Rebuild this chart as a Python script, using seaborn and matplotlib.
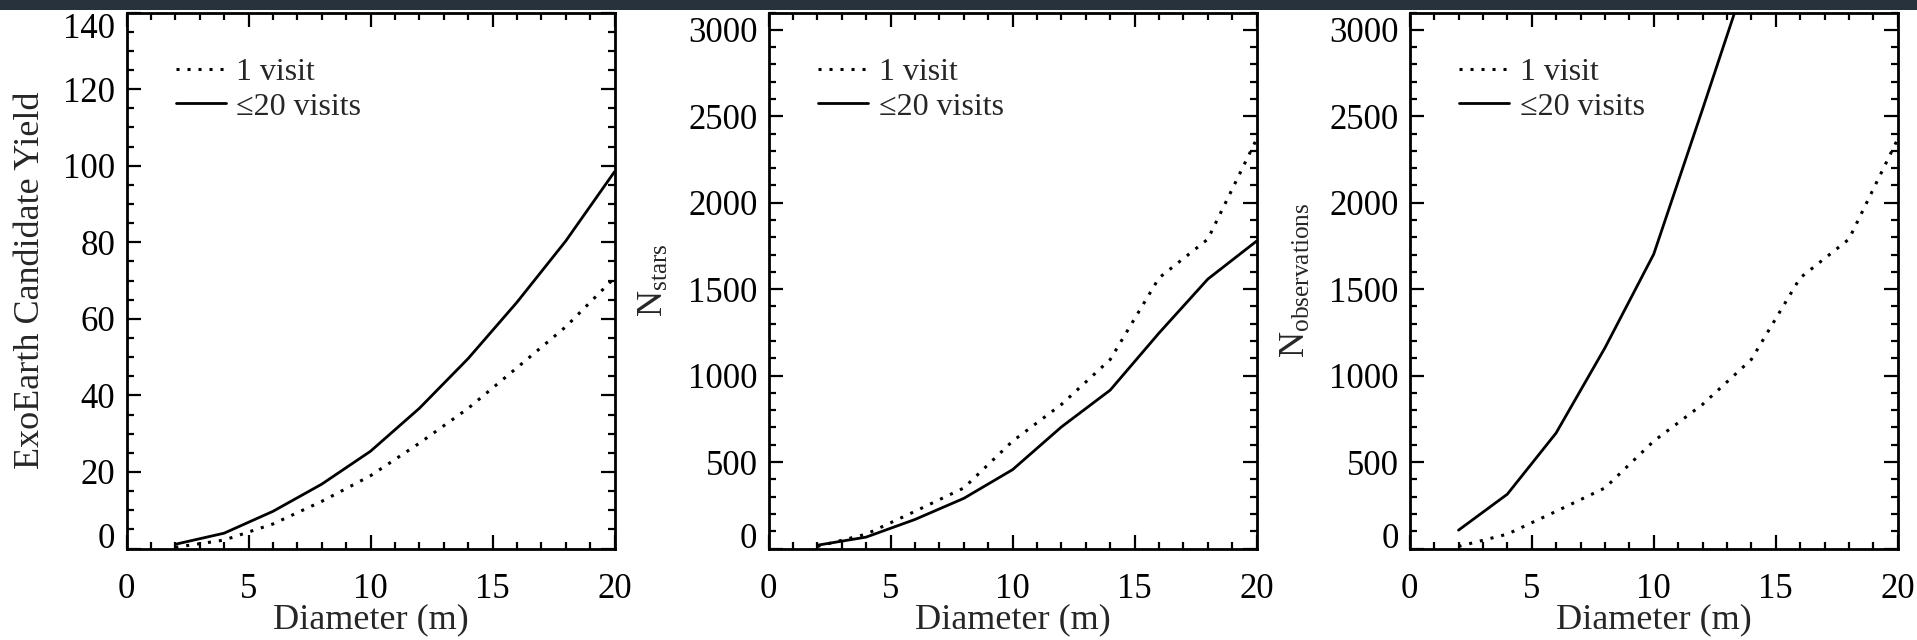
import numpy as np
import pandas as pd
import matplotlib
matplotlib.use("Agg")
import matplotlib.pyplot as plt
from matplotlib.ticker import MultipleLocator
from matplotlib.patches import Rectangle
import seaborn as sns

# ---- data ----
diameter = [2, 4, 6, 8, 10, 12, 14, 16, 18, 20]
yield_1visit = [0.3, 2.2, 6.4, 12.3, 19.0, 27.5, 36.6, 47.2, 57.9, 70.7]
yield_20visits = [1.1, 4.0, 9.7, 16.8, 25.4, 36.6, 49.6, 64.3, 80.3, 98.4]
nstars_1visit = [12, 83, 215, 350, 621, 833, 1093, 1565, 1789, 2368]
nstars_20visits = [19, 66, 168, 290, 456, 703, 916, 1246, 1558, 1778]
nobs_1visit = [12, 83, 215, 350, 621, 833, 1093, 1565, 1789, 2368]
diameter_obs20 = [2, 4, 6, 8, 10, 12, 14]
nobs_20visits = [106, 314, 668, 1160, 1702, 2540, 3390]
series_labels = ["1 visit", "\u226420 visits"]
ylabels = ["ExoEarth Candidate Yield", r"$\mathrm{N_{stars}}$", r"$\mathrm{N_{observations}}$"]
xlabel = "Diameter (m)"

sns.set_style("ticks")
plt.rcParams["font.family"] = ["Liberation Serif", "DejaVu Serif"]
plt.rcParams["mathtext.fontset"] = "custom"
plt.rcParams["mathtext.rm"] = "Liberation Serif"
plt.rcParams["mathtext.it"] = "Liberation Serif:italic"

fig = plt.figure(figsize=(19.17, 6.4), dpi=100)
fig.patch.set_facecolor("white")
fig.add_artist(Rectangle((0, 630 / 640), 1, 10 / 640, transform=fig.transFigure,
                         facecolor="#28323d", edgecolor="none", zorder=10))

lefts = [126.5 / 1917, 768.6 / 1917, 1409.7 / 1917]
width = 488 / 1917
bottom = (640 - 548.5) / 640
height = (548.5 - 12.5) / 640

panels = [
    (diameter, yield_1visit, diameter, yield_20visits, 140, 20, 5),
    (diameter, nstars_1visit, diameter, nstars_20visits, 3100, 500, 100),
    (diameter, nobs_1visit, diameter_obs20, nobs_20visits, 3100, 500, 100),
]

dot_style = (0, (1, 2.6))
for i, (x1, y1, x2, y2, ymax, ymaj, ymin) in enumerate(panels):
    ax = fig.add_axes([lefts[i], bottom, width, height])
    d1 = pd.DataFrame({"x": x1, "y": y1})
    d2 = pd.DataFrame({"x": x2, "y": y2})
    sns.lineplot(data=d1, x="x", y="y", ax=ax, color="black", lw=2.2,
                 linestyle=dot_style, label=series_labels[0])
    sns.lineplot(data=d2, x="x", y="y", ax=ax, color="black", lw=2.0,
                 label=series_labels[1])
    ax.set_xlim(0, 20)
    ax.set_ylim(0, ymax)
    ax.xaxis.set_major_locator(MultipleLocator(5))
    ax.xaxis.set_minor_locator(MultipleLocator(1))
    ax.set_yticks(np.arange(0, ymax + 1, ymaj) if ymax == 140 else np.arange(0, 3001, ymaj))
    ax.yaxis.set_minor_locator(MultipleLocator(ymin))
    ax.tick_params(which="both", direction="in", top=True, right=True,
                   width=1.6, colors="black")
    ax.tick_params(which="major", length=10)
    ax.tick_params(which="minor", length=5)
    ax.tick_params(axis="x", which="major", labelsize=25, pad=18)
    ax.tick_params(axis="y", which="major", labelsize=25, pad=8)
    for s in ax.spines.values():
        s.set_linewidth(2.0)
        s.set_color("black")
    ax.set_xlabel(xlabel, fontsize=26, labelpad=-2)
    ax.set_ylabel(ylabels[i], fontsize=26, labelpad=12)
    yt = ax.yaxis.get_major_ticks()
    yt[0].label1.set_verticalalignment("baseline")
    if ymax == 140:
        yt[-1].label1.set_verticalalignment("top")
    ax.legend(loc="upper left", bbox_to_anchor=(0.101, 0.915),
              frameon=False, fontsize=23, handlelength=1.56,
              handletextpad=0.34, labelspacing=0.15, borderaxespad=0,
              borderpad=0)

fig.savefig("out.png", dpi=100, facecolor="white")
